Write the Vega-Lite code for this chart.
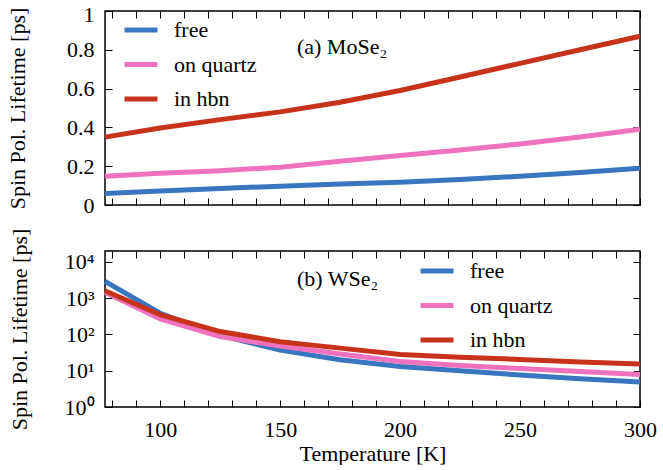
{
  "$schema": "https://vega.github.io/schema/vega-lite/v6.json",
  "background": "white",
  "padding": {"left": 5, "top": 2, "right": 0, "bottom": 0},
  "config": {
    "font": "Liberation Serif",
    "view": {"stroke": "#000", "strokeWidth": 1.5}
  },
  "datasets": {
    "mose2": [
      {"T": 77, "tau": 0.059, "sample": "free"},
      {"T": 100, "tau": 0.072, "sample": "free"},
      {"T": 125, "tau": 0.085, "sample": "free"},
      {"T": 150, "tau": 0.097, "sample": "free"},
      {"T": 175, "tau": 0.108, "sample": "free"},
      {"T": 200, "tau": 0.117, "sample": "free"},
      {"T": 225, "tau": 0.132, "sample": "free"},
      {"T": 250, "tau": 0.148, "sample": "free"},
      {"T": 275, "tau": 0.168, "sample": "free"},
      {"T": 300, "tau": 0.190, "sample": "free"},
      {"T": 77, "tau": 0.148, "sample": "on quartz"},
      {"T": 100, "tau": 0.164, "sample": "on quartz"},
      {"T": 125, "tau": 0.177, "sample": "on quartz"},
      {"T": 150, "tau": 0.195, "sample": "on quartz"},
      {"T": 175, "tau": 0.225, "sample": "on quartz"},
      {"T": 200, "tau": 0.255, "sample": "on quartz"},
      {"T": 225, "tau": 0.283, "sample": "on quartz"},
      {"T": 250, "tau": 0.315, "sample": "on quartz"},
      {"T": 275, "tau": 0.350, "sample": "on quartz"},
      {"T": 300, "tau": 0.390, "sample": "on quartz"},
      {"T": 77, "tau": 0.350, "sample": "in hbn"},
      {"T": 100, "tau": 0.397, "sample": "in hbn"},
      {"T": 125, "tau": 0.440, "sample": "in hbn"},
      {"T": 150, "tau": 0.480, "sample": "in hbn"},
      {"T": 175, "tau": 0.530, "sample": "in hbn"},
      {"T": 200, "tau": 0.590, "sample": "in hbn"},
      {"T": 225, "tau": 0.660, "sample": "in hbn"},
      {"T": 250, "tau": 0.730, "sample": "in hbn"},
      {"T": 275, "tau": 0.800, "sample": "in hbn"},
      {"T": 300, "tau": 0.870, "sample": "in hbn"}
    ],
    "wse2": [
      {"T": 77, "tau": 2900, "sample": "free"},
      {"T": 100, "tau": 385, "sample": "free"},
      {"T": 125, "tau": 95, "sample": "free"},
      {"T": 150, "tau": 37, "sample": "free"},
      {"T": 175, "tau": 20, "sample": "free"},
      {"T": 200, "tau": 13, "sample": "free"},
      {"T": 225, "tau": 10, "sample": "free"},
      {"T": 250, "tau": 7.6, "sample": "free"},
      {"T": 275, "tau": 6, "sample": "free"},
      {"T": 300, "tau": 4.9, "sample": "free"},
      {"T": 77, "tau": 1450, "sample": "on quartz"},
      {"T": 100, "tau": 270, "sample": "on quartz"},
      {"T": 125, "tau": 88, "sample": "on quartz"},
      {"T": 150, "tau": 48, "sample": "on quartz"},
      {"T": 175, "tau": 29, "sample": "on quartz"},
      {"T": 200, "tau": 18, "sample": "on quartz"},
      {"T": 225, "tau": 14, "sample": "on quartz"},
      {"T": 250, "tau": 11.5, "sample": "on quartz"},
      {"T": 275, "tau": 9.5, "sample": "on quartz"},
      {"T": 300, "tau": 7.9, "sample": "on quartz"},
      {"T": 77, "tau": 1600, "sample": "in hbn"},
      {"T": 100, "tau": 350, "sample": "in hbn"},
      {"T": 125, "tau": 120, "sample": "in hbn"},
      {"T": 150, "tau": 63, "sample": "in hbn"},
      {"T": 175, "tau": 42, "sample": "in hbn"},
      {"T": 200, "tau": 28, "sample": "in hbn"},
      {"T": 225, "tau": 23.5, "sample": "in hbn"},
      {"T": 250, "tau": 20.5, "sample": "in hbn"},
      {"T": 275, "tau": 17.5, "sample": "in hbn"},
      {"T": 300, "tau": 15.3, "sample": "in hbn"}
    ]
  },
  "spacing": 46,
  "bounds": "flush",
  "resolve": {"legend": {"color": "independent"}},
  "vconcat": [
    {
      "width": 535,
      "height": 194,
      "resolve": {"axis": {"x": "independent", "y": "independent"}},
      "layer": [
        {
          "data": {"name": "mose2"},
          "mark": {"type": "line", "strokeWidth": 5},
          "encoding": {
            "x": {"field": "T", "type": "quantitative",
                  "scale": {"domain": [77, 300], "nice": false, "zero": false},
                  "axis": {"title": null, "labels": false, "grid": false, "domain": false, "tickSize": -7, "tickColor": "#000", "tickWidth": 1,
                           "values": [80, 90, 100, 110, 120, 130, 140, 150, 160, 170, 180, 190, 200, 210, 220, 230, 240, 250, 260, 270, 280, 290, 300]}},
            "y": {"field": "tau", "type": "quantitative",
                  "scale": {"domain": [0, 1], "nice": false},
                  "axis": {"title": "Spin Pol. Lifetime [ps]", "values": [0, 0.2, 0.4, 0.6, 0.8, 1], "format": "~g",
                           "labelFlush": false,
                           "labelOffset": {"condition": {"test": "datum.value == 1", "value": 3}, "value": 0},
                           "grid": false, "domain": false, "tickSize": -7, "tickColor": "#000", "tickWidth": 1,
                           "labelFont": "Liberation Serif", "labelFontSize": 22, "labelColor": "#000", "labelPadding": 18,
                           "titleFont": "Liberation Serif", "titleFontSize": 22, "titleFontWeight": "normal", "titleColor": "#000", "titlePadding": 37}},
            "color": {"field": "sample", "type": "nominal",
                      "scale": {"domain": ["free", "on quartz", "in hbn"], "range": ["#3a76c0", "#ee72be", "#c8321a"]},
                      "legend": {"orient": "none", "legendX": 17, "legendY": 0, "title": null,
                                 "symbolType": "stroke", "symbolStrokeWidth": 5, "symbolSize": 1089,
                                 "labelFont": "Liberation Serif", "labelFontSize": 22, "labelColor": "#000",
                                 "padding": 0, "rowPadding": 4.5, "labelOffset": 14}}
          }
        },
        {
          "data": {"name": "mose2"},
          "mark": {"type": "point", "opacity": 0},
          "encoding": {
            "x": {"field": "T", "type": "quantitative",
                  "axis": {"orient": "top", "title": null, "labels": false, "grid": false, "domain": false, "tickSize": -7, "tickColor": "#000", "tickWidth": 1,
                           "values": [80, 90, 100, 110, 120, 130, 140, 150, 160, 170, 180, 190, 200, 210, 220, 230, 240, 250, 260, 270, 280, 290, 300]}},
            "y": {"field": "tau", "type": "quantitative",
                  "axis": {"orient": "right", "title": null, "labels": false, "grid": false, "domain": false, "tickSize": -7, "tickColor": "#000", "tickWidth": 1,
                           "values": [0, 0.2, 0.4, 0.6, 0.8, 1]}}
          }
        },
        {
          "data": {"values": [{}]},
          "mark": {"type": "text", "align": "left", "baseline": "middle", "fontSize": 22, "font": "Liberation Serif", "color": "#000"},
          "encoding": {
            "x": {"datum": 157, "type": "quantitative", "axis": null},
            "y": {"datum": 0.815, "type": "quantitative", "axis": null},
            "text": {"value": "(a) MoSe₂"}
          }
        }
      ]
    },
    {
      "width": 535,
      "height": 156,
      "resolve": {"axis": {"x": "independent", "y": "independent"}},
      "layer": [
        {
          "data": {"name": "wse2"},
          "mark": {"type": "line", "strokeWidth": 5},
          "encoding": {
            "x": {"field": "T", "type": "quantitative",
                  "scale": {"domain": [77, 300], "nice": false, "zero": false},
                  "axis": {"title": "Temperature [K]",
                           "values": [80, 90, 100, 110, 120, 130, 140, 150, 160, 170, 180, 190, 200, 210, 220, 230, 240, 250, 260, 270, 280, 290, 300],
                           "labelExpr": "datum.value % 50 == 0 ? datum.label : ''", "labelFlush": false, "labelOverlap": false, "labelBound": false,
                           "grid": false, "domain": false, "tickSize": -7, "tickColor": "#000", "tickWidth": 1,
                           "labelFont": "Liberation Serif", "labelFontSize": 22, "labelColor": "#000", "labelPadding": 19,
                           "titleFont": "Liberation Serif", "titleFontSize": 22, "titleFontWeight": "normal", "titleColor": "#000", "titlePadding": 3}},
            "y": {"field": "tau", "type": "quantitative",
                  "scale": {"type": "log", "domain": [1, 20000], "nice": false},
                  "axis": {"title": "Spin Pol. Lifetime [ps]", "values": [1, 10, 100, 1000, 10000],
                           "labelExpr": "datum.value == 1 ? '10⁰' : datum.value == 10 ? '10¹' : datum.value == 100 ? '10²' : datum.value == 1000 ? '10³' : '10⁴'",
                           "labelFlush": false,
                           "grid": false, "domain": false, "tickSize": -7, "tickColor": "#000", "tickWidth": 1,
                           "labelFont": "Liberation Serif", "labelFontSize": 22, "labelColor": "#000", "labelPadding": 18,
                           "titleFont": "Liberation Serif", "titleFontSize": 22, "titleFontWeight": "normal", "titleColor": "#000", "titlePadding": 33}},
            "color": {"field": "sample", "type": "nominal",
                      "scale": {"domain": ["free", "on quartz", "in hbn"], "range": ["#3a76c0", "#ee72be", "#c8321a"]},
                      "legend": {"orient": "none", "legendX": 313, "legendY": 1, "title": null,
                                 "symbolType": "stroke", "symbolStrokeWidth": 5, "symbolSize": 1089,
                                 "labelFont": "Liberation Serif", "labelFontSize": 22, "labelColor": "#000",
                                 "padding": 0, "rowPadding": 4.5, "labelOffset": 14}}
          }
        },
        {
          "data": {"name": "wse2"},
          "mark": {"type": "point", "opacity": 0},
          "encoding": {
            "x": {"field": "T", "type": "quantitative",
                  "axis": {"orient": "top", "title": null, "labels": false, "grid": false, "domain": false, "tickSize": -7, "tickColor": "#000", "tickWidth": 1,
                           "values": [80, 90, 100, 110, 120, 130, 140, 150, 160, 170, 180, 190, 200, 210, 220, 230, 240, 250, 260, 270, 280, 290, 300]}},
            "y": {"field": "tau", "type": "quantitative",
                  "axis": {"orient": "right", "title": null, "labels": false, "grid": false, "domain": false, "tickSize": -7, "tickColor": "#000", "tickWidth": 1,
                           "values": [1, 10, 100, 1000, 10000]}}
          }
        },
        {
          "data": {"values": [{}]},
          "mark": {"type": "text", "align": "left", "baseline": "middle", "fontSize": 22, "font": "Liberation Serif", "color": "#000"},
          "encoding": {
            "x": {"datum": 157, "type": "quantitative", "axis": null},
            "y": {"datum": 3300, "type": "quantitative", "axis": null},
            "text": {"value": "(b) WSe₂"}
          }
        }
      ]
    }
  ]
}
